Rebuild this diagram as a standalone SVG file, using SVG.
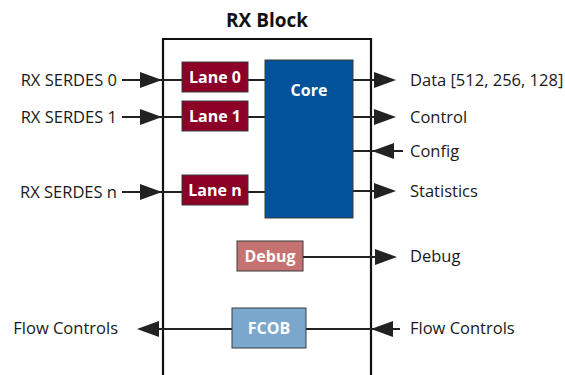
<svg xmlns="http://www.w3.org/2000/svg" xmlns:xlink="http://www.w3.org/1999/xlink" width="565" height="375" viewBox="0 0 565 375">
<style>
text{font-family:"Open Sans","Noto Sans","Liberation Sans",sans-serif;}
.lbl{font-size:16.5px;fill:#1a1a1a;}
.box{stroke:#3a3a3a;stroke-width:1;}
.btxt{font-size:16px;font-weight:bold;fill:#ffffff;text-anchor:middle;}
.lane{fill:#8c0028;}
.wire{stroke:#222222;stroke-width:2;fill:none;}
.ah{fill:#222222;}
</style>
<defs>
<path id="arrow" d="M0,0 L-22,-8 L-22,8 Z"/>
</defs>
<g id="rx-block">
<path d="M163,376 V39 H371 V376" fill="none" stroke="#111111" stroke-width="2.2"/>
<text x="267" y="27" text-anchor="middle" style="font-size:19px;font-weight:bold;fill:#111111">RX Block</text>
</g>
<g id="connectors">
<line class="wire" x1="122" y1="80" x2="182" y2="80"/>
<line class="wire" x1="122" y1="117" x2="182" y2="117"/>
<line class="wire" x1="122" y1="192" x2="182" y2="192"/>
<line class="wire" x1="248" y1="80" x2="265" y2="80"/>
<line class="wire" x1="248" y1="117" x2="265" y2="117"/>
<line class="wire" x1="248" y1="192" x2="265" y2="192"/>
<line class="wire" x1="353" y1="80" x2="380" y2="80"/>
<line class="wire" x1="353" y1="117" x2="380" y2="117"/>
<line class="wire" x1="353" y1="151" x2="403" y2="151"/>
<line class="wire" x1="353" y1="191" x2="380" y2="191"/>
<line class="wire" x1="303" y1="257" x2="380" y2="257"/>
<line class="wire" x1="150" y1="329" x2="232" y2="329"/>
<line class="wire" x1="306" y1="329" x2="400" y2="329"/>
<use xlink:href="#arrow" class="ah" transform="translate(162,80)"/>
<use xlink:href="#arrow" class="ah" transform="translate(162,117)"/>
<use xlink:href="#arrow" class="ah" transform="translate(162,192)"/>
<use xlink:href="#arrow" class="ah" transform="translate(396,80)"/>
<use xlink:href="#arrow" class="ah" transform="translate(396,117)"/>
<use xlink:href="#arrow" class="ah" transform="translate(372,151) rotate(180)"/>
<use xlink:href="#arrow" class="ah" transform="translate(396,191)"/>
<use xlink:href="#arrow" class="ah" transform="translate(397,257)"/>
<use xlink:href="#arrow" class="ah" transform="translate(137,329) rotate(180)"/>
<use xlink:href="#arrow" class="ah" transform="translate(371,329) rotate(180)"/>
</g>
<g id="lane0">
<rect class="box lane" x="182" y="62" width="66" height="30"/>
<text class="btxt" x="215" y="83">Lane 0</text>
</g>
<g id="lane1">
<rect class="box lane" x="182" y="101" width="66" height="30"/>
<text class="btxt" x="215" y="122">Lane 1</text>
</g>
<g id="lanen">
<rect class="box lane" x="182" y="175" width="66" height="30"/>
<text class="btxt" x="215" y="196">Lane n</text>
</g>
<g id="core">
<rect class="box" x="265" y="60" width="88" height="158" fill="#00539b"/>
<text class="btxt" x="309" y="96">Core</text>
</g>
<g id="debug">
<rect class="box" x="237" y="241" width="66" height="30" fill="#c77272"/>
<text class="btxt" x="270" y="262">Debug</text>
</g>
<g id="fcob">
<rect class="box" x="232" y="308" width="74" height="40" fill="#7ba7cc"/>
<text class="btxt" x="269" y="334">FCOB</text>
</g>
<g id="labels">
<text class="lbl" x="117" y="86" text-anchor="end">RX SERDES 0</text>
<text class="lbl" x="117" y="123" text-anchor="end">RX SERDES 1</text>
<text class="lbl" x="117" y="198" text-anchor="end">RX SERDES n</text>
<text class="lbl" x="410" y="86">Data [512, 256, 128]</text>
<text class="lbl" x="410" y="123">Control</text>
<text class="lbl" x="410" y="157">Config</text>
<text class="lbl" x="410" y="197">Statistics</text>
<text class="lbl" x="410" y="262">Debug</text>
<text class="lbl" x="118" y="334" text-anchor="end">Flow Controls</text>
<text class="lbl" x="410" y="334">Flow Controls</text>
</g>
</svg>
